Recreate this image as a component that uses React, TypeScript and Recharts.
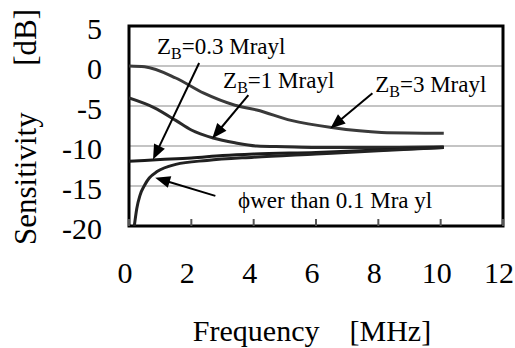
import React from "react";
import {
  LineChart,
  Line,
  XAxis,
  YAxis,
  CartesianGrid,
  ReferenceArea,
  ReferenceLine,
  ReferenceDot,
} from "recharts";

// ---- data (frequency in MHz, sensitivity in dB) ----
const freq3 = [0, 0.5, 1.5, 2.4, 3.4, 4.1, 5.2, 6.5, 8.1, 10.1];
const sens3 = [0, -0.1, -1.5, -3.4, -4.9, -5.5, -6.8, -7.7, -8.3, -8.4];

const freq1 = [0, 0.8, 1.5, 2.0, 2.7, 3.4, 4.1, 5, 6, 8, 10.1];
const sens1 = [-4, -5.2, -6.8, -8.0, -9.0, -9.6, -10.0, -10.1, -10.2, -10.2, -10.1];

const freq03 = [0, 1, 2, 3, 4, 6, 8, 10.1];
const sens03 = [-11.9, -11.7, -11.5, -11.2, -11.0, -10.8, -10.5, -10.2];

const freqLow = [0.17, 0.25, 0.35, 0.5, 0.65, 0.9, 1.5, 2.5, 4, 6, 8, 10.1];
const sensLow = [-20, -17.8, -16.2, -14.9, -14.0, -13.2, -12.3, -11.8, -11.4, -11.0, -10.6, -10.2];

const xTicks = [0, 2, 4, 6, 8, 10, 12];
const yTicks = [-20, -15, -10, -5, 0, 5];

// annotation arrows: start and tip (data units)
const arrowStartX = [2.25, 3.83, 7.81, 2.77];
const arrowStartY = [0.38, -3.65, -3.4, -16.23];
const arrowTipX = [0.77, 2.67, 6.46, 0.84];
const arrowTipY = [-11.7, -9.06, -7.8, -13.96];

// annotation labels: anchor (start, baseline)
const labelMain = ["Z", "Z", "Z", "ϕwer than 0.1 Mra yl"];
const labelSub = ["B", "B", "B", ""];
const labelRest = ["=0.3 Mrayl", "=1 Mrayl", "=3 Mrayl", ""];
const labelX = [0.9, 3.02, 7.9, 3.5];
const labelY = [1.51, -2.77, -3.27, -17.74];

const toSeries = (xs: number[], ys: number[]) => xs.map((x, i) => ({ x, y: ys[i] }));
const s3 = toSeries(freq3, sens3);
const s1 = toSeries(freq1, sens1);
const s03 = toSeries(freq03, sens03);
const sLow = toSeries(freqLow, sensLow);

const fontStyle = { fontFamily: '"Liberation Serif"' };

const XTick = (props: any) => {
  const { x, y, payload } = props;
  return (
    <g>
      <line x1={x} y1={y} x2={x} y2={y - 7} stroke="#555" strokeWidth={2} />
      <text x={x - 4} y={y + 57} textAnchor="middle" fontSize={30} style={fontStyle} fill="#000">
        {payload.value}
      </text>
    </g>
  );
};

const YTick = (props: any) => {
  const { x, y, payload } = props;
  return (
    <text x={x - 27} y={y + 13} textAnchor="end" fontSize={30} style={fontStyle} fill="#000">
      {payload.value}
    </text>
  );
};

const ArrowShape = (props: any) => {
  const { x1, y1, x2, y2 } = props;
  const dx = x2 - x1;
  const dy = y2 - y1;
  const len = Math.hypot(dx, dy) || 1;
  const ux = dx / len;
  const uy = dy / len;
  const hl = 15;
  const hw = 6;
  const bx = x2 - ux * hl;
  const by = y2 - uy * hl;
  const px = -uy;
  const py = ux;
  return (
    <g>
      <line x1={x1} y1={y1} x2={bx + ux * 2} y2={by + uy * 2} stroke="#000" strokeWidth={2} />
      <polygon
        points={`${x2},${y2} ${bx + px * hw},${by + py * hw} ${bx - px * hw},${by - py * hw}`}
        fill="#000"
      />
    </g>
  );
};

const makeLabelShape = (i: number) => (props: any) => {
  const { cx, cy } = props;
  return (
    <text x={cx} y={cy} fontSize={23} style={fontStyle} fill="#000">
      {labelMain[i]}
      {labelSub[i] ? (
        <tspan fontSize={16} dy={5}>
          {labelSub[i]}
        </tspan>
      ) : null}
      {labelRest[i] ? <tspan dy={labelSub[i] ? -5 : 0}>{labelRest[i]}</tspan> : null}
    </text>
  );
};

export default function App() {
  return (
    <div style={{ position: "absolute", left: 0, top: 0, width: 515, height: 348, background: "#fff" }}>
      <LineChart
        width={515}
        height={348}
        margin={{ top: 26, right: 12, bottom: 121, left: 128 }}
      >
        <CartesianGrid vertical={false} stroke="#c4c4c4" strokeWidth={2} />
        <XAxis
          type="number"
          dataKey="x"
          domain={[0, 12]}
          ticks={xTicks}
          height={1}
          axisLine={false}
          tickLine={false}
          tickSize={0}
          tickMargin={0}
          tick={<XTick />}
          interval={0}
          allowDataOverflow
        />
        <YAxis
          type="number"
          dataKey="y"
          domain={[-20, 5]}
          ticks={yTicks}
          width={1}
          axisLine={false}
          tickLine={false}
          tickSize={0}
          tickMargin={0}
          tick={<YTick />}
          interval={0}
          allowDataOverflow
        />
        <Line data={s3} dataKey="y" type="monotone" stroke="#3a3a3a" strokeWidth={3} dot={false} isAnimationActive={false} />
        <Line data={s1} dataKey="y" type="monotone" stroke="#2a2a2a" strokeWidth={3} dot={false} isAnimationActive={false} />
        <Line data={s03} dataKey="y" type="monotone" stroke="#1a1a1a" strokeWidth={3} dot={false} isAnimationActive={false} />
        <Line data={sLow} dataKey="y" type="monotone" stroke="#222" strokeWidth={3} dot={false} isAnimationActive={false} />
        {arrowStartX.map((sx, i) => (
          <ReferenceLine
            key={"a" + i}
            segment={[
              { x: sx, y: arrowStartY[i] },
              { x: arrowTipX[i], y: arrowTipY[i] },
            ]}
            shape={ArrowShape}
            ifOverflow="visible"
          />
        ))}
        {labelX.map((lx, i) => (
          <ReferenceDot key={"l" + i} x={lx} y={labelY[i]} r={0} shape={makeLabelShape(i)} ifOverflow="visible" />
        ))}
        <ReferenceArea x1={0} x2={12} y1={-20} y2={5} fill="none" stroke="#000" strokeWidth={3} ifOverflow="visible" />
      </LineChart>
      <svg width={515} height={348} style={{ position: "absolute", left: 0, top: 0, pointerEvents: "none" }}>
        <text x={312} y={341} textAnchor="middle" fontSize={30} style={fontStyle} fill="#000">
          {"Frequency\u00a0\u00a0\u00a0\u00a0[MHz]"}
        </text>
        <text
          x={36}
          y={127}
          textAnchor="middle"
          fontSize={31}
          style={fontStyle}
          fill="#000"
          transform="rotate(-90 36 127)"
        >
          {"Sensitivity\u00a0\u00a0\u00a0\u00a0\u00a0\u00a0[dB]"}
        </text>
      </svg>
    </div>
  );
}
